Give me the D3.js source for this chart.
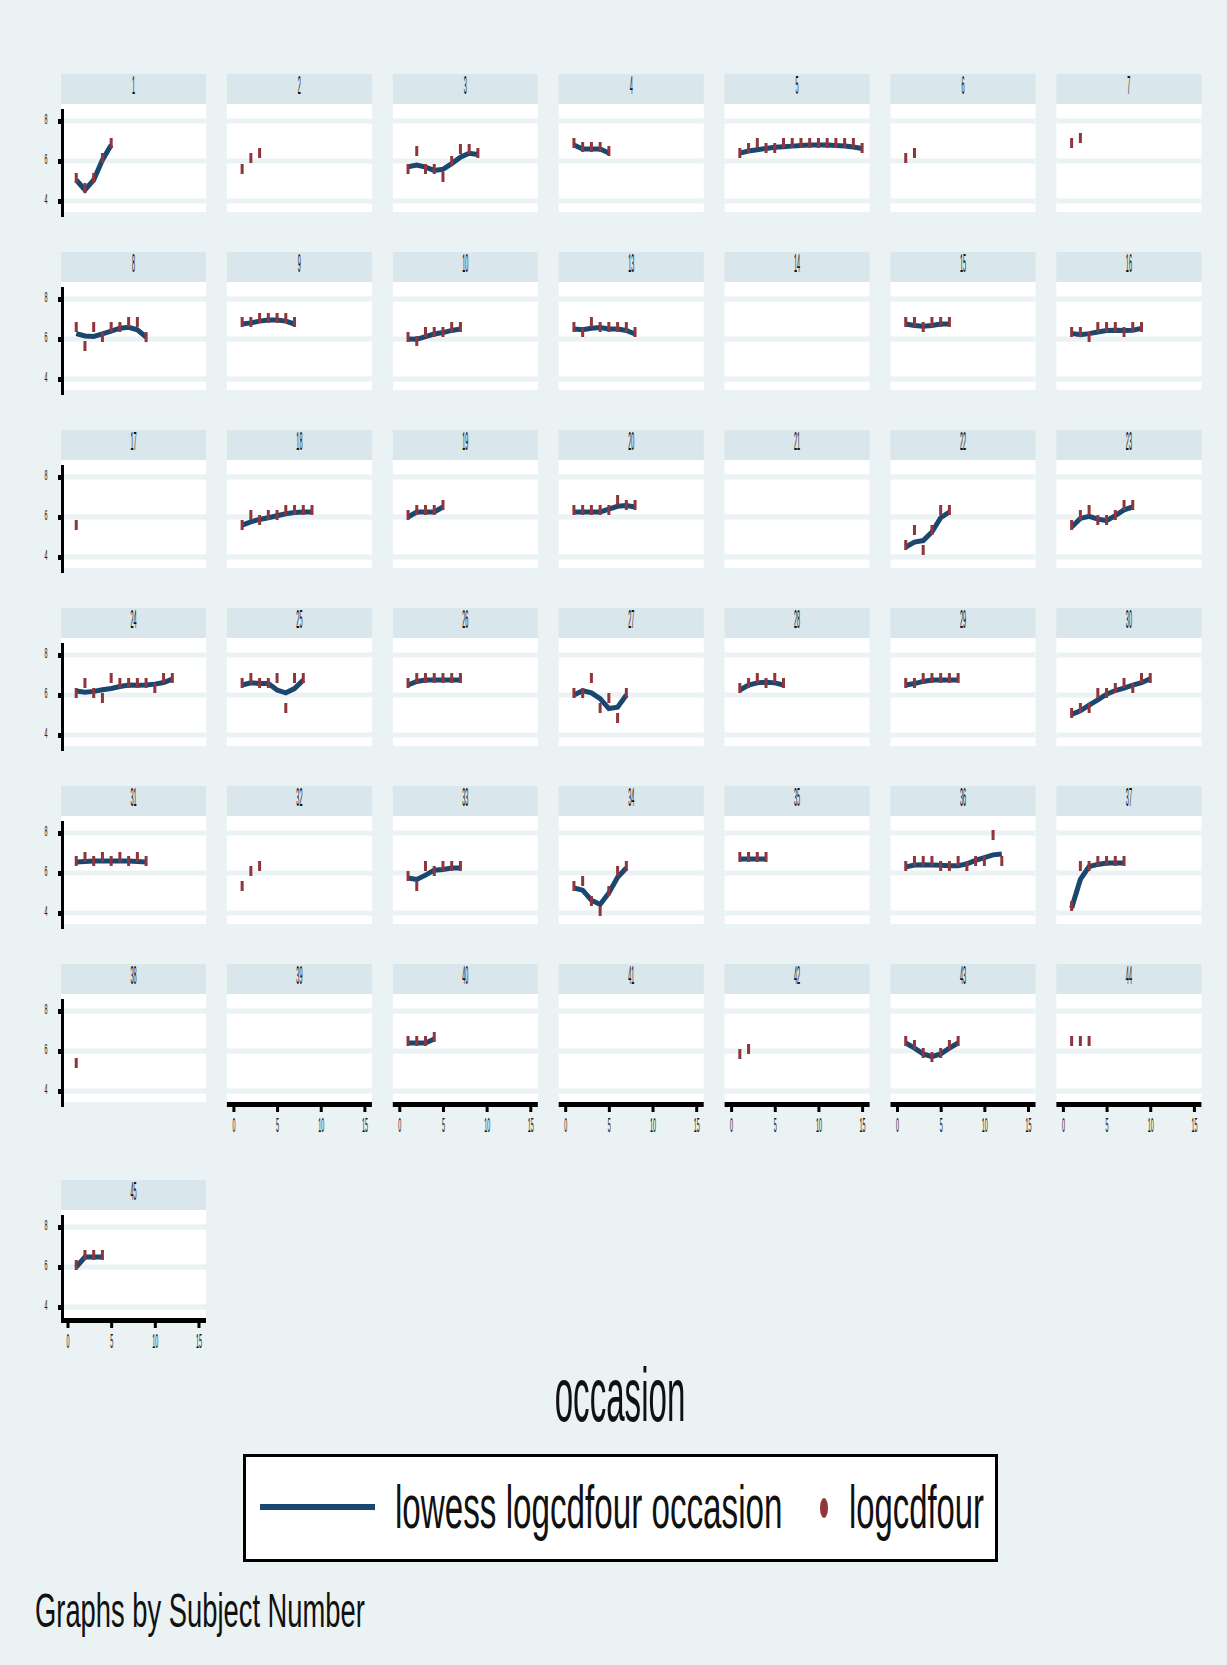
<!DOCTYPE html>
<html lang="en">
<head>
<meta charset="utf-8">
<title>logcdfour by Subject Number</title>
<script src="https://cdnjs.cloudflare.com/ajax/libs/d3/7.8.5/d3.min.js"></script>
<style>
body { margin: 0; background: #fff; }
text { font-family: "Liberation Sans", Arial, sans-serif; fill: #111; }
</style>
</head>
<body>
<div id="chart"></div>
<script>

// subjects in panel order (Stata "by" only keeps the ones present)
var subjects = ["1","2","3","4","5","6","7",
                "8","9","10","13","14","15","16",
                "17","18","19","20","21","22","23",
                "24","25","26","27","28","29","30",
                "31","32","33","34","35","36","37",
                "38","39","40","41","42","43","44",
                "45"];

var occasions = [1,2,3,4,5,6,7,8,9,10,11,12,13,14,15];
var xTicks = [0,5,10,15];
var yTicks = [4,6,8];

// logcdfour per subject, one value per occasion starting at 1
var logcdfour = [
    [5.05,4.55,5.05,6.05,6.8],
    [5.5,6.05,6.3],
    [5.5,6.4,5.5,5.5,5.1,5.9,6.5,6.5,6.3],
    [6.8,6.6,6.6,6.6,6.4],
    [6.3,6.55,6.8,6.55,6.55,6.8,6.8,6.8,6.8,6.8,6.8,6.8,6.8,6.8,6.55],
    [6.05,6.3],
    [6.8,7.05],
    [6.5,5.55,6.5,6.0,6.5,6.5,6.75,6.75,6.0],
    [6.75,6.75,6.95,6.95,6.95,6.95,6.75],
    [6.0,5.8,6.25,6.25,6.25,6.5,6.5],
    [6.5,6.25,6.75,6.5,6.5,6.5,6.5,6.25],
    [],
    [6.75,6.75,6.5,6.75,6.75,6.75],
    [6.25,6.25,6.0,6.5,6.5,6.5,6.25,6.5,6.5],
    [5.5],
    [5.5,6.0,5.75,6.0,6.0,6.25,6.25,6.25,6.25],
    [6.0,6.25,6.25,6.25,6.5],
    [6.25,6.25,6.25,6.25,6.25,6.75,6.5,6.5],
    [],
    [4.5,5.25,4.25,5.25,6.25,6.25],
    [5.5,6.0,6.25,5.75,5.75,6.0,6.5,6.5],
    [6.0,6.5,6.0,5.75,6.75,6.5,6.5,6.5,6.5,6.25,6.75,6.75],
    [6.5,6.75,6.5,6.5,6.75,5.25,6.75,6.75],
    [6.5,6.75,6.75,6.75,6.75,6.75,6.75],
    [6.0,6.0,6.75,5.25,5.75,4.75,6.0],
    [6.25,6.5,6.75,6.5,6.75,6.5],
    [6.5,6.5,6.75,6.75,6.75,6.75,6.75],
    [5.0,5.25,5.25,6.0,6.0,6.25,6.5,6.25,6.75,6.75],
    [6.5,6.7,6.5,6.7,6.5,6.7,6.5,6.7,6.5],
    [5.25,6.0,6.25],
    [5.75,5.25,6.25,6.0,6.25,6.25,6.25],
    [5.25,5.5,4.5,4.0,5.0,6.0,6.25],
    [6.7,6.7,6.7,6.7],
    [6.25,6.5,6.5,6.5,6.25,6.25,6.5,6.25,6.5,6.5,7.8,6.5],
    [4.25,6.25,6.25,6.5,6.5,6.5,6.5],
    [5.3],
    [],
    [6.4,6.4,6.4,6.6],
    [],
    [5.75,6.0],
    [6.4,6.2,5.8,5.6,5.8,6.2,6.4],
    [6.4,6.4,6.4],
    [6.0,6.5,6.5,6.5]
];

var bgColor = "#eaf2f3",
    headColor = "#d9e6eb",
    lineColor = "#1a476f",
    dotColor = "#90353b";

var W = 1227, H = 1665;
var nCols = 7, colStep = 165.9, panelW = 145, headerH = 30, plotH = 108;

function colLeft(c) { return 61 + c * colStep; }
function rowTop(r) { return r < 6 ? 74 + r * 178 : 1180; }

var x = d3.scaleLinear().domain([0, 15]).range([6.5, 137.5]);
var y = d3.scaleLinear().domain([4, 8]).range([97, 17]);
var fmt = d3.format("d");

// Stata-style lowess (running line, tricube weights, bwidth .8)
function lowess(xs, ys, bw) {
    var n = xs.length, k = Math.floor((n * bw - 0.5) / 2), out = [];
    for (var i = 0; i < n; i++) {
        var lo = Math.max(0, i - k), hi = Math.min(n - 1, i + k);
        var delta = 1.0001 * Math.max(xs[hi] - xs[i], xs[i] - xs[lo]);
        if (delta === 0) { out.push(ys[i]); continue; }
        var sw = 0, sx = 0, sy = 0, sxx = 0, sxy = 0;
        for (var j = lo; j <= hi; j++) {
            var u = Math.abs(xs[j] - xs[i]) / delta;
            var w = Math.pow(1 - u * u * u, 3);
            sw += w; sx += w * xs[j]; sy += w * ys[j];
            sxx += w * xs[j] * xs[j]; sxy += w * xs[j] * ys[j];
        }
        var mx = sx / sw, my = sy / sw, vx = sxx / sw - mx * mx;
        var b = vx > 1e-9 ? (sxy / sw - mx * my) / vx : 0;
        out.push(my + b * (xs[i] - mx));
    }
    return out;
}

// the reference text is squeezed sideways and stretched up
function squishText(g, str, px, py, size, sx, sy, anchor) {
    return g.append("text")
        .attr("transform", "translate(" + px + "," + py + ") scale(" + sx + "," + sy + ")")
        .attr("text-anchor", anchor || "middle")
        .attr("font-size", size)
        .text(str);
}

var svg = d3.select("#chart").append("svg")
    .attr("width", W)
    .attr("height", H);

svg.append("rect")
    .attr("width", W)
    .attr("height", H)
    .attr("fill", bgColor);

var line = d3.line()
    .x(function(d) { return x(d[0]); })
    .y(function(d) { return y(d[1]); });

subjects.forEach(function(name, i) {
    var r = Math.floor(i / nCols), c = i % nCols;
    var values = logcdfour[i];
    var pts = values.map(function(v, j) { return [occasions[j], v]; });

    var panel = svg.append("g")
        .attr("transform", "translate(" + colLeft(c) + "," + rowTop(r) + ")");

    panel.append("rect")
        .attr("width", panelW)
        .attr("height", headerH)
        .attr("fill", headColor);
    squishText(panel, name, panelW / 2, 20, 10, 0.55, 2.6);

    var plot = panel.append("g")
        .attr("transform", "translate(0," + headerH + ")");

    plot.append("rect")
        .attr("width", panelW)
        .attr("height", plotH)
        .attr("fill", "#fff");

    plot.selectAll(".grid")
        .data(yTicks)
        .enter().append("rect")
            .attr("class", "grid")
            .attr("x", 0)
            .attr("width", panelW)
            .attr("y", function(d) { return y(d) - 2.5; })
            .attr("height", 5)
            .attr("fill", bgColor);

    if (pts.length >= 4) {
        var fit = lowess(pts.map(function(d) { return d[0]; }), values, 0.8);
        plot.append("path")
            .datum(pts.map(function(d, j) { return [d[0], fit[j]]; }))
            .attr("d", line)
            .attr("fill", "none")
            .attr("stroke", lineColor)
            .attr("stroke-width", 5);
    }

    plot.selectAll(".dot")
        .data(pts)
        .enter().append("rect")
            .attr("class", "dot")
            .attr("x", function(d) { return x(d[0]) - 1.5; })
            .attr("y", function(d) { return y(d[1]) - 7; })
            .attr("width", 3)
            .attr("height", 10)
            .attr("fill", dotColor);

    if (c === 0) {
        var ga = plot.append("g")
            .attr("transform", "translate(1.5,0)")
            .call(d3.axisLeft(y).tickValues(yTicks).tickFormat(fmt).tickSize(3).tickSizeOuter(0));
        ga.select(".domain").remove();
        ga.selectAll(".tick line")
            .attr("stroke", "#000")
            .attr("stroke-width", 5)
            .attr("x1", -1.5)
            .attr("x2", -4.5);
        ga.selectAll(".tick text")
            .attr("x", null)
            .attr("dy", null)
            .attr("fill", "#111")
            .attr("text-anchor", "middle")
            .attr("font-size", 9)
            .attr("font-family", "Liberation Sans, Arial, sans-serif")
            .attr("transform", "translate(-16.5,2.5) scale(0.6,1.55)");
        plot.append("line")
            .attr("x1", 1.5).attr("x2", 1.5)
            .attr("y1", 5).attr("y2", plotH + 5)
            .attr("stroke", "#000")
            .attr("stroke-width", 3);
    }

    if (i + nCols >= subjects.length) {
        plot.append("rect")
            .attr("x", 0)
            .attr("y", plotH)
            .attr("width", panelW)
            .attr("height", 5)
            .attr("fill", "#000");
        var gx = plot.append("g")
            .attr("transform", "translate(0," + (plotH + 5) + ")")
            .call(d3.axisBottom(x).tickValues(xTicks).tickFormat(fmt).tickSize(5).tickSizeOuter(0));
        gx.select(".domain").remove();
        gx.selectAll(".tick line")
            .attr("stroke", "#000")
            .attr("stroke-width", 3);
        gx.selectAll(".tick text")
            .attr("y", null)
            .attr("dy", null)
            .attr("fill", "#111")
            .attr("font-size", 9)
            .attr("font-family", "Liberation Sans, Arial, sans-serif")
            .attr("transform", "translate(0,25) scale(0.6,2.2)");
    }
});

// x title
squishText(svg, "occasion", 620, 1421, 48, 0.69, 1.6);

// legend
var legend = svg.append("g");
legend.append("rect")
    .attr("x", 244.5).attr("y", 1455.5)
    .attr("width", 752).attr("height", 105)
    .attr("fill", "#fff")
    .attr("stroke", "#000")
    .attr("stroke-width", 3);
legend.append("line")
    .attr("x1", 260).attr("x2", 375)
    .attr("y1", 1507).attr("y2", 1507)
    .attr("stroke", lineColor)
    .attr("stroke-width", 6);
squishText(legend, "lowess logcdfour occasion", 395, 1528, 40, 0.83, 1.54, "start");
legend.append("ellipse")
    .attr("cx", 824).attr("cy", 1508)
    .attr("rx", 4).attr("ry", 10)
    .attr("fill", dotColor);
squishText(legend, "logcdfour", 849, 1528, 40, 0.82, 1.54, "start");

// note
squishText(svg, "Graphs by Subject Number", 35, 1627, 36, 0.76, 1.36, "start");

</script>
</body>
</html>
